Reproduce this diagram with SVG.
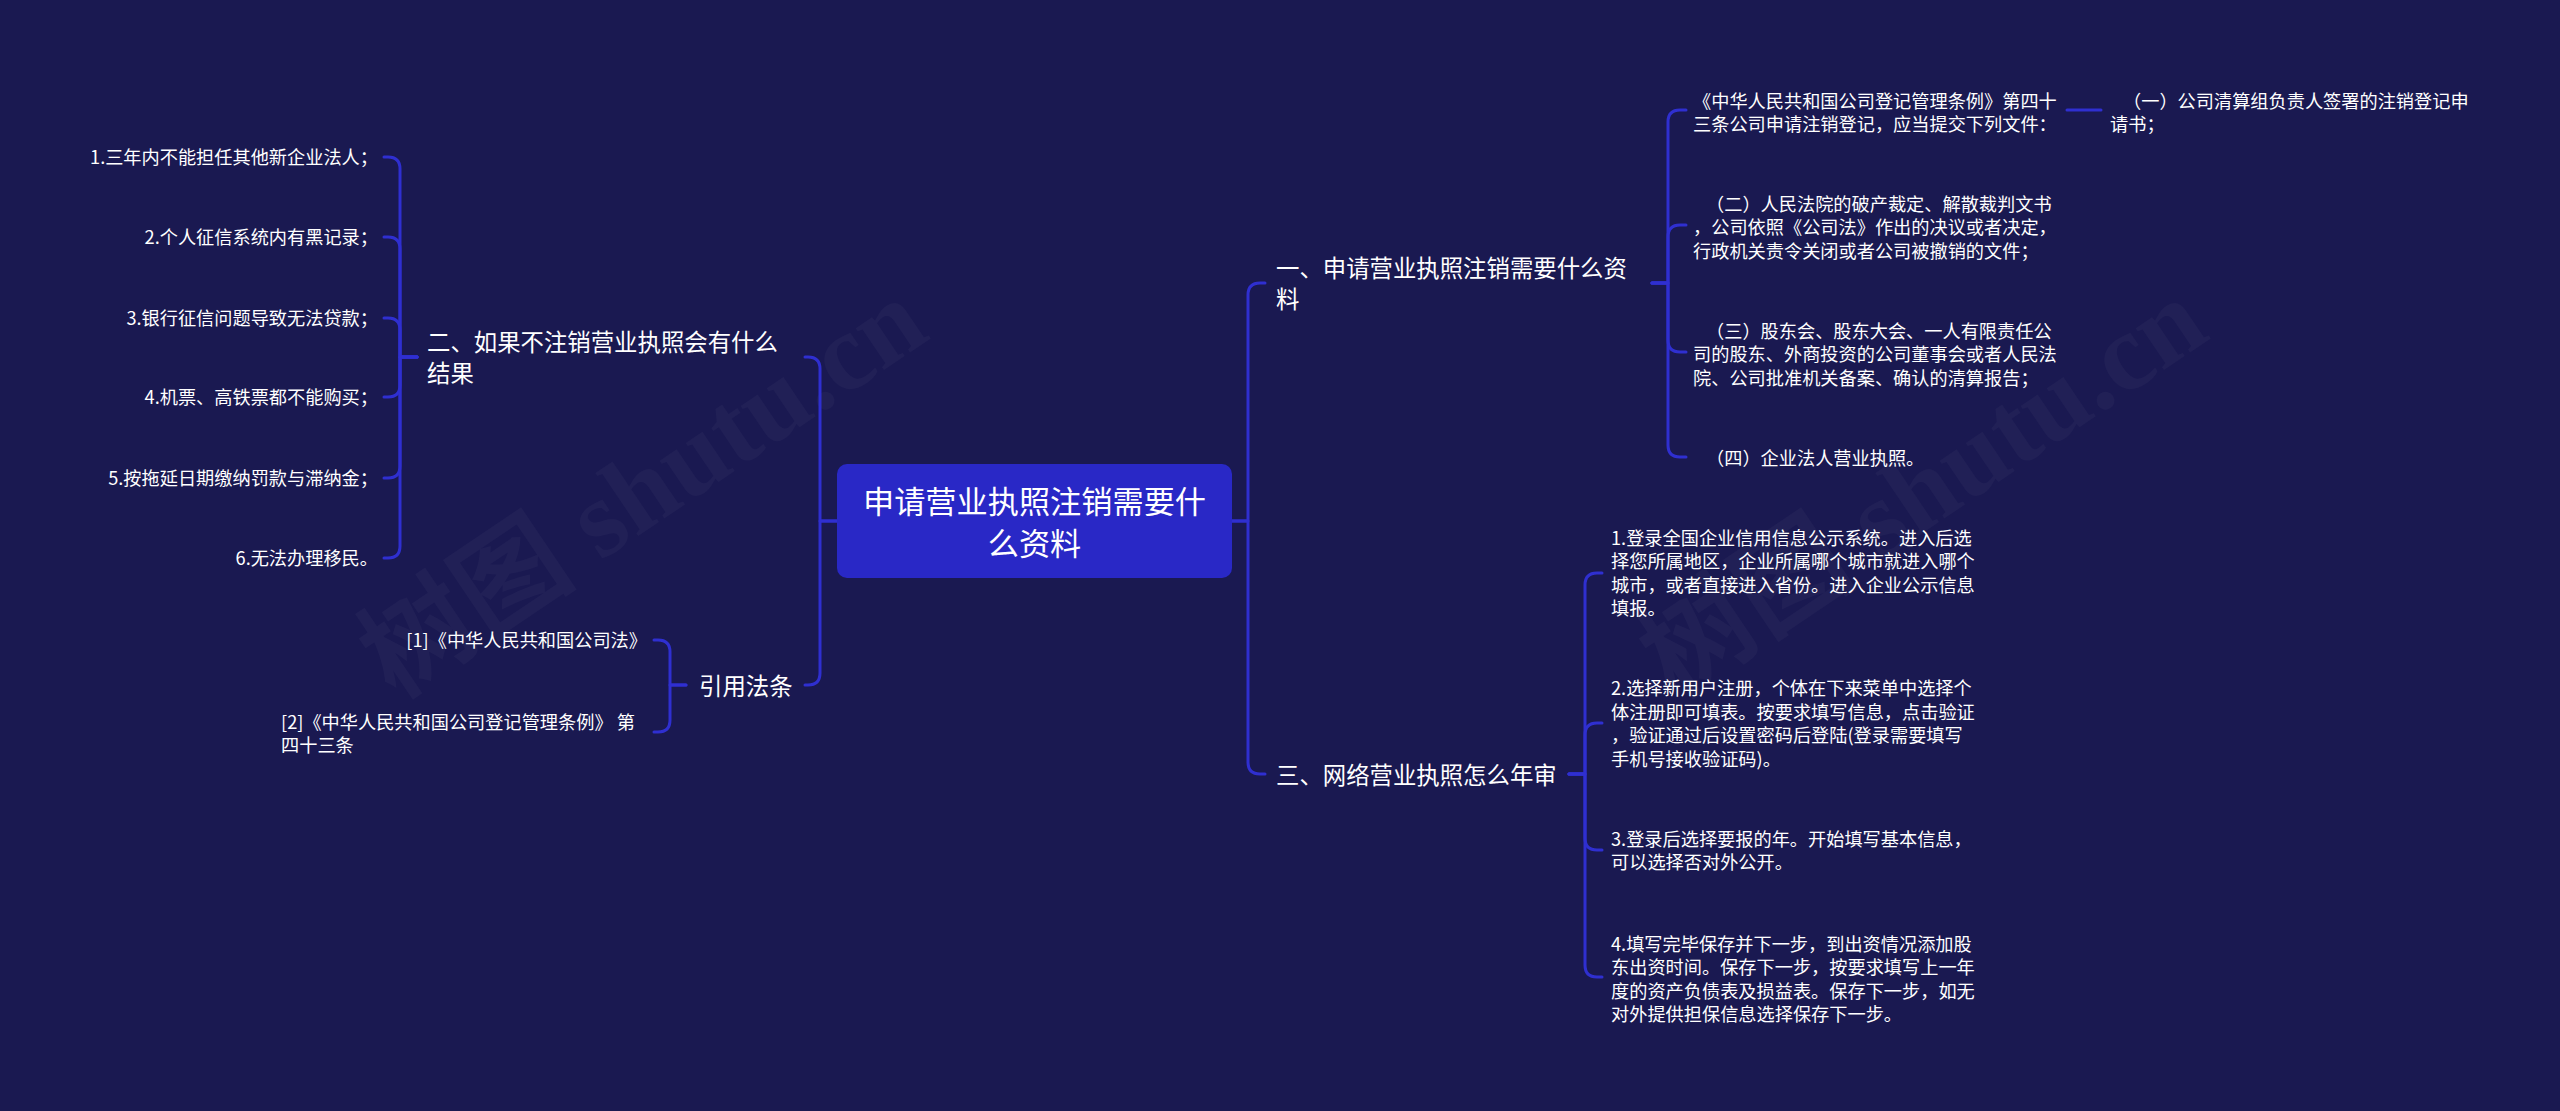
<svg xmlns="http://www.w3.org/2000/svg" width="2560" height="1111" viewBox="0 0 2560 1111">
<style>
  text { font-family: "Noto Sans CJK SC", "Noto Sans", sans-serif; fill: #ffffff; }
  .leaf { font-size: 18.2px; }
  .branch { font-size: 23.4px; }
  .root { font-size: 31.2px; }
  .end { text-anchor: end; }
  .mid { text-anchor: middle; }
  .wm { font-family: "Liberation Serif", "Noto Sans CJK SC", serif; font-size: 110px; font-weight: bold; fill: #ffffff; fill-opacity: 0.03; }
  .edge { fill: none; stroke: #2f2fd0; stroke-width: 3; stroke-linecap: round; stroke-linejoin: round; }
</style>
<rect x="0" y="0" width="2560" height="1111" fill="#1a1951"/>

<g id="watermarks">
  <text class="wm" x="395" y="700" transform="rotate(-34 395 700)">树图 shutu.cn</text>
  <text class="wm" x="1675" y="700" transform="rotate(-34 1675 700)">树图 shutu.cn</text>
</g>

<g id="connectors">
  <!-- root to left branches -->
  <path class="edge" d="M 837 521 H 820 V 369 Q 820 357 808 357 H 805"/>
  <path class="edge" d="M 837 521 H 820 V 673 Q 820 685 808 685 H 805"/>
  <!-- 二 to items -->
  <path class="edge" d="M 417 357 H 400 V 169 Q 400 157 388 157 H 384"/>
  <path class="edge" d="M 417 357 H 400 V 249 Q 400 237 388 237 H 384"/>
  <path class="edge" d="M 417 357 H 400 V 330 Q 400 318 388 318 H 384"/>
  <path class="edge" d="M 417 357 H 400 V 385 Q 400 397 388 397 H 384"/>
  <path class="edge" d="M 417 357 H 400 V 466 Q 400 478 388 478 H 384"/>
  <path class="edge" d="M 417 357 H 400 V 546 Q 400 558 388 558 H 384"/>
  <!-- 引用法条 to refs -->
  <path class="edge" d="M 686 685 H 670 V 652 Q 670 640 658 640 H 654"/>
  <path class="edge" d="M 686 685 H 670 V 720 Q 670 732 658 732 H 654"/>
  <!-- root to right branches -->
  <path class="edge" d="M 1232 521 H 1248 V 295 Q 1248 283 1260 283 H 1265"/>
  <path class="edge" d="M 1232 521 H 1248 V 762 Q 1248 774 1260 774 H 1265"/>
  <!-- 一 to children -->
  <path class="edge" d="M 1652 283 H 1668 V 122 Q 1668 110 1680 110 H 1686"/>
  <path class="edge" d="M 1652 283 H 1668 V 237 Q 1668 225 1680 225 H 1686"/>
  <path class="edge" d="M 1652 283 H 1668 V 340 Q 1668 352 1680 352 H 1686"/>
  <path class="edge" d="M 1652 283 H 1668 V 445 Q 1668 457 1680 457 H 1686"/>
  <!-- 条例 to (一) -->
  <path class="edge" d="M 2067 110 H 2101"/>
  <!-- 三 to children -->
  <path class="edge" d="M 1569 774 H 1585 V 585 Q 1585 573 1597 573 H 1602"/>
  <path class="edge" d="M 1569 774 H 1585 V 735 Q 1585 723 1597 723 H 1602"/>
  <path class="edge" d="M 1569 774 H 1585 V 838 Q 1585 850 1597 850 H 1602"/>
  <path class="edge" d="M 1569 774 H 1585 V 965 Q 1585 977 1597 977 H 1602"/>
</g>

<g id="root">
  <rect x="837" y="464" width="395" height="114" rx="10" fill="#2928c6"/>
  <text class="root mid" x="1034.5" y="513">申请营业执照注销需要什</text>
  <text class="root mid" x="1034.5" y="554.6">么资料</text>
</g>

<g id="n2">
  <text class="branch" x="427" y="351">二、如果不注销营业执照会有什么</text>
  <text class="branch" x="427" y="382">结果</text>
</g>
<g id="n2-1"><text class="leaf end" x="378" y="163.7">1.三年内不能担任其他新企业法人；</text></g>
<g id="n2-2"><text class="leaf end" x="378" y="244">2.个人征信系统内有黑记录；</text></g>
<g id="n2-3"><text class="leaf end" x="378" y="325">3.银行征信问题导致无法贷款；</text></g>
<g id="n2-4"><text class="leaf end" x="378" y="404">4.机票、高铁票都不能购买；</text></g>
<g id="n2-5"><text class="leaf end" x="378" y="485">5.按拖延日期缴纳罚款与滞纳金；</text></g>
<g id="n2-6"><text class="leaf end" x="378" y="565">6.无法办理移民。</text></g>

<g id="nref">
  <text class="branch" x="699" y="694.5">引用法条</text>
</g>
<g id="nref-1"><text class="leaf end" x="647" y="647">[1]《中华人民共和国公司法》</text></g>
<g id="nref-2">
  <text class="leaf" x="281" y="729.2">[2]《中华人民共和国公司登记管理条例》 第</text>
  <text class="leaf" x="281" y="752.2">四十三条</text>
</g>

<g id="n1">
  <text class="branch" x="1276" y="277">一、申请营业执照注销需要什么资</text>
  <text class="branch" x="1276" y="308">料</text>
</g>
<g id="n1-1">
  <text class="leaf" x="1693" y="107.5">《中华人民共和国公司登记管理条例》第四十</text>
  <text class="leaf" x="1693" y="130.9">三条公司申请注销登记，应当提交下列文件：</text>
</g>
<g id="n1-1-1">
  <text class="leaf" x="2123" y="107.5">（一）公司清算组负责人签署的注销登记申</text>
  <text class="leaf" x="2110" y="130.9">请书；</text>
</g>
<g id="n1-2">
  <text class="leaf" x="1706" y="210.7">（二）人民法院的破产裁定、解散裁判文书</text>
  <text class="leaf" x="1693" y="234.1">，公司依照《公司法》作出的决议或者决定，</text>
  <text class="leaf" x="1693" y="257.5">行政机关责令关闭或者公司被撤销的文件；</text>
</g>
<g id="n1-3">
  <text class="leaf" x="1706" y="337.7">（三）股东会、股东大会、一人有限责任公</text>
  <text class="leaf" x="1693" y="361.1">司的股东、外商投资的公司董事会或者人民法</text>
  <text class="leaf" x="1693" y="384.5">院、公司批准机关备案、确认的清算报告；</text>
</g>
<g id="n1-4">
  <text class="leaf" x="1706" y="464.7">（四）企业法人营业执照。</text>
</g>

<g id="n3">
  <text class="branch" x="1276" y="783.5">三、网络营业执照怎么年审</text>
</g>
<g id="n3-1">
  <text class="leaf" x="1611" y="544.7">1.登录全国企业信用信息公示系统。进入后选</text>
  <text class="leaf" x="1611" y="568.1">择您所属地区，企业所属哪个城市就进入哪个</text>
  <text class="leaf" x="1611" y="591.5">城市，或者直接进入省份。进入企业公示信息</text>
  <text class="leaf" x="1611" y="614.9">填报。</text>
</g>
<g id="n3-2">
  <text class="leaf" x="1611" y="695.4">2.选择新用户注册，个体在下来菜单中选择个</text>
  <text class="leaf" x="1611" y="718.8">体注册即可填表。按要求填写信息，点击验证</text>
  <text class="leaf" x="1611" y="742.2">，验证通过后设置密码后登陆(登录需要填写</text>
  <text class="leaf" x="1611" y="765.6">手机号接收验证码)。</text>
</g>
<g id="n3-3">
  <text class="leaf" x="1611" y="845.7">3.登录后选择要报的年。开始填写基本信息，</text>
  <text class="leaf" x="1611" y="869.1">可以选择否对外公开。</text>
</g>
<g id="n3-4">
  <text class="leaf" x="1611" y="950.7">4.填写完毕保存并下一步，到出资情况添加股</text>
  <text class="leaf" x="1611" y="974.1">东出资时间。保存下一步，按要求填写上一年</text>
  <text class="leaf" x="1611" y="997.5">度的资产负债表及损益表。保存下一步，如无</text>
  <text class="leaf" x="1611" y="1020.9">对外提供担保信息选择保存下一步。</text>
</g>
</svg>
